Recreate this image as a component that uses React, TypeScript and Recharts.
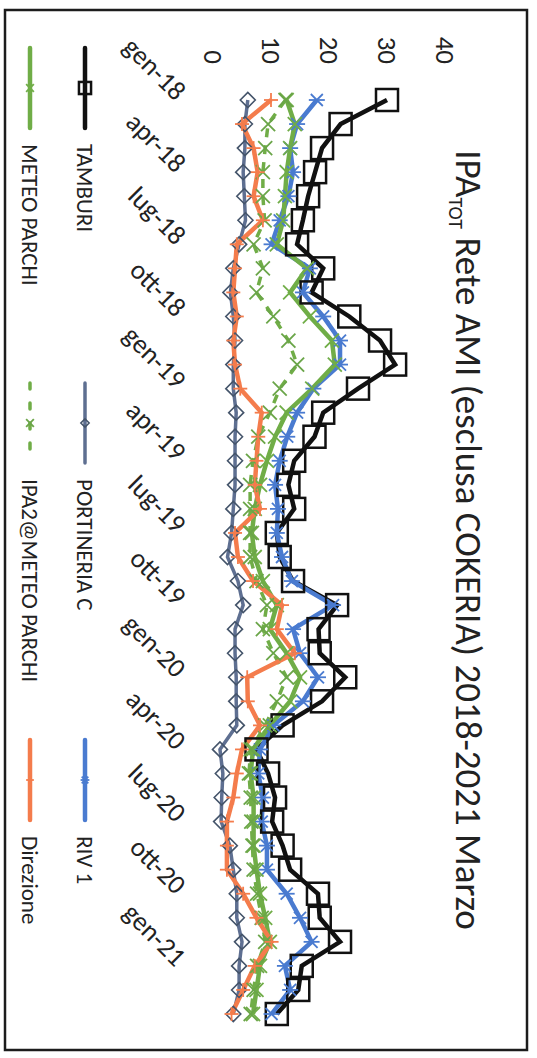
import React from 'react';
import { LineChart, Line, XAxis, YAxis } from 'recharts';

// mesi gen-18 .. mar-21
const mesi = [
  'gen-18', 'feb-18', 'mar-18', 'apr-18', 'mag-18', 'giu-18', 'lug-18', 'ago-18', 'set-18', 'ott-18', 'nov-18', 'dic-18',
  'gen-19', 'feb-19', 'mar-19', 'apr-19', 'mag-19', 'giu-19', 'lug-19', 'ago-19', 'set-19', 'ott-19', 'nov-19', 'dic-19',
  'gen-20', 'feb-20', 'mar-20', 'apr-20', 'mag-20', 'giu-20', 'lug-20', 'ago-20', 'set-20', 'ott-20', 'nov-20', 'dic-20',
  'gen-21', 'feb-21', 'mar-21',
];

const tamburi = [30, 22, 18.8, 17.6, 16.4, 15.5, 14.5, 19, 17, 23.5, 28.8, 31.4, 25, 19, 17.5, 14, 13, 14, 11, 11.5, 13.8, 21.4, 18.2, 18.4, 22.8, 18.8, 12, 7.5, 9.5, 10.7, 10.2, 12, 13.3, 18.1, 18.4, 21.9, 15.3, 14.7, 11];
const portineriaC = [6, 5.5, 5.5, 5.2, 5.4, 5.6, 4.5, 3.5, 3, 3.5, 3.8, 3.5, 3.5, 4, 3.8, 3.8, 3.8, 3.5, 3.2, 2.5, 4.3, 5.2, 3.8, 3.8, 4, 4, 4.1, 1.2, 1.7, 1.5, 1.4, 2.9, 3.5, 4.1, 4.1, 5, 4.5, 4.5, 3.5];
const riv1 = [17.9, 14.5, 13.3, 13.8, 13, 11.5, 10.1, 16.7, 15.5, 19, 21.9, 21.9, 17.3, 14.5, 12.8, 11.5, 10.7, 11.2, 11, 11.9, 13.6, 20.7, 13.8, 15, 18.1, 15.5, 10.4, 8.1, 7.8, 8.6, 8.4, 9.3, 9.3, 12.7, 15, 17, 12.4, 13.3, 10.1];
const meteoParchi = [12.7, 14.1, 13.3, 12.7, 12.4, 12.1, 11, 16.2, 13.3, 16.7, 20.5, 21, 17.1, 12.7, 10.7, 9.3, 8.1, 7.2, 6.7, 7.2, 8.6, 11, 9.8, 12.7, 15, 13.3, 9.8, 6.9, 6.5, 7, 7, 7, 7.5, 8.1, 9, 9.8, 8.1, 7.5, 6.9];
const ipa2MeteoParchi = [12.5, 9.5, 9, 8.6, 8.6, 8.9, 7, 8.6, 7.5, 10.4, 13, 14.5, 11.5, 9.8, 7.8, 6.9, 6.4, 6.4, 6.4, 6.4, 7.5, 9.3, 8.6, 10.4, 12.7, 11, 9, 6.5, 6.2, 6.5, 6.6, 6.8, 7, 7.6, 8.4, 9, 7.6, 7, 6.5];
const direzione = [10, 5, 7, 7.7, 7, 8.6, 4.1, 3.8, 3.5, 4.1, 3.5, 3.8, 4.7, 8.4, 7.8, 7.5, 7.2, 8.1, 3.8, 4.3, 6.9, 11.9, 11, 14.1, 5.9, 6, 8.1, 5, 4.1, 3.5, 2.4, 2.4, 2.4, 5.2, 7.5, 10.1, 7.2, 5.2, 3.2];

const yTicks = [0, 10, 20, 30, 40];

const W = 1058;
const H = 537;
const FONT = 'Carlito, Calibri, Lato, sans-serif';

const data = mesi.map((m, i) => ({
  mese: m,
  tamburi: tamburi[i],
  portineria: portineriaC[i],
  riv1: riv1[i],
  meteo: meteoParchi[i],
  ipa2: ipa2MeteoParchi[i],
  direzione: direzione[i],
}));

// marker shapes, s = scale
const drawMarker = (kind: string, cx: number, cy: number, color: string, s = 1) => {
  switch (kind) {
    case 'square':
      return <rect x={cx - 11 * s} y={cy - 11 * s} width={22 * s} height={22 * s} fill="none" stroke={color} strokeWidth={2.5} />;
    case 'diamond':
      return (
        <polygon
          points={`${cx},${cy - 7.5 * s} ${cx + 7.5 * s},${cy} ${cx},${cy + 7.5 * s} ${cx - 7.5 * s},${cy}`}
          fill="none"
          stroke={color}
          strokeWidth={1.6}
        />
      );
    case 'star':
      return (
        <g stroke={color} strokeWidth={1.8}>
          <line x1={cx - 6 * s} y1={cy - 6 * s} x2={cx + 6 * s} y2={cy + 6 * s} />
          <line x1={cx - 6 * s} y1={cy + 6 * s} x2={cx + 6 * s} y2={cy - 6 * s} />
          <line x1={cx} y1={cy - 8 * s} x2={cx} y2={cy + 8 * s} />
        </g>
      );
    case 'x':
      return (
        <g stroke={color} strokeWidth={1.8}>
          <line x1={cx - 7 * s} y1={cy - 7 * s} x2={cx + 7 * s} y2={cy + 7 * s} />
          <line x1={cx - 7 * s} y1={cy + 7 * s} x2={cx + 7 * s} y2={cy - 7 * s} />
        </g>
      );
    default:
      return (
        <g stroke={color} strokeWidth={1.8}>
          <line x1={cx - 7 * s} y1={cy} x2={cx + 7 * s} y2={cy} />
          <line x1={cx} y1={cy - 7 * s} x2={cx} y2={cy + 7 * s} />
        </g>
      );
  }
};

const series = [
  { key: 'tamburi', name: 'TAMBURI', color: '#111111', marker: 'square', markerColor: '#111111', dash: undefined, width: 4.5 },
  { key: 'portineria', name: 'PORTINERIA C', color: '#5E6F91', marker: 'diamond', markerColor: '#44546A', dash: undefined, width: 3.5 },
  { key: 'riv1', name: 'RIV 1', color: '#4A7BD0', marker: 'star', markerColor: '#4A7BD0', dash: undefined, width: 4.5 },
  { key: 'meteo', name: 'METEO PARCHI', color: '#70AD47', marker: 'x', markerColor: '#70AD47', dash: undefined, width: 4.5 },
  { key: 'ipa2', name: 'IPA2@METEO PARCHI', color: '#70AD47', marker: 'x', markerColor: '#6AA548', dash: '9 8', width: 3.5 },
  { key: 'direzione', name: 'Direzione', color: '#F47C4C', marker: 'plus', markerColor: '#F47C4C', dash: undefined, width: 4.5 },
];

const legendPos = [
  { x: 48, y: 452 },
  { x: 383, y: 452 },
  { x: 740, y: 452 },
  { x: 48, y: 507 },
  { x: 383, y: 507 },
  { x: 740, y: 507 },
];

const XTick = (props: any) => {
  const { x, payload } = props;
  const y = 362;
  return (
    <text
      x={x + 2}
      y={y}
      transform={`rotate(-45 ${x + 2} ${y})`}
      textAnchor="end"
      fontSize={27}
      fontFamily={FONT}
      fill="#222"
    >
      {payload.value}
    </text>
  );
};

const YTick = (props: any) => {
  const { y, payload } = props;
  return (
    <text x={64} y={y} textAnchor="end" dominantBaseline="central" fontSize={27} fontFamily={FONT} fill="#222">
      {payload.value}
    </text>
  );
};

export default function App() {
  return (
    <div style={{ position: 'absolute', left: 0, top: 0, width: 537, height: 1058, overflow: 'hidden', background: '#fff' }}>
      <div
        style={{
          position: 'absolute',
          left: 0,
          top: 0,
          width: W,
          height: H,
          transformOrigin: '0 0',
          transform: 'translateX(537px) rotate(90deg)',
          fontFamily: FONT,
        }}
      >
        <LineChart width={W} height={H} data={data} margin={{ top: 92, right: 32, bottom: 183, left: 28 }}>
          <XAxis
            dataKey="mese"
            interval={2}
            tickLine={false}
            axisLine={false}
            height={30}
            padding={{ left: 12, right: 12 }}
            tick={<XTick />}
          />
          <YAxis
            domain={[0, 40]}
            ticks={yTicks}
            width={60}
            tickLine={false}
            axisLine={false}
            tick={<YTick />}
          />
          {series.map((s) => (
            <Line
              key={s.key}
              dataKey={s.key}
              name={s.name}
              stroke={s.color}
              strokeWidth={s.width}
              strokeDasharray={s.dash}
              isAnimationActive={false}
              dot={(p: any) => (
                <g key={`${s.key}-${p.index}`}>{p.cx == null ? null : drawMarker(s.marker, p.cx, p.cy, s.markerColor)}</g>
              )}
              activeDot={false}
            />
          ))}
        </LineChart>
        <svg width={W} height={H} style={{ position: 'absolute', left: 0, top: 0 }}>
          <rect x={10} y={10} width={1040} height={522} fill="none" stroke="#1c1c1c" strokeWidth={2.5} />
          <text x={540} y={81} textAnchor="middle" fontSize={37} fontFamily={FONT} fill="#222">
            <tspan>IPA</tspan>
            <tspan fontSize={20} dy={7}>TOT</tspan>
            <tspan dy={-7}> Rete AMI (esclusa COKERIA) 2018-2021 Marzo</tspan>
          </text>
          {series.map((s, i) => {
            const lp = legendPos[i];
            return (
              <g key={s.key}>
                <line
                  x1={lp.x}
                  y1={lp.y}
                  x2={lp.x + 80}
                  y2={lp.y}
                  stroke={s.color}
                  strokeWidth={s.width}
                  strokeDasharray={s.dash ? '6 14' : undefined}
                  strokeLinecap="round"
                />
                {drawMarker(s.marker, lp.x + 40, lp.y, s.markerColor, 0.55)}
                <text x={lp.x + 96} y={lp.y} dominantBaseline="central" fontSize={23} fontFamily={FONT} fill="#222">
                  {s.name}
                </text>
              </g>
            );
          })}
        </svg>
      </div>
    </div>
  );
}
